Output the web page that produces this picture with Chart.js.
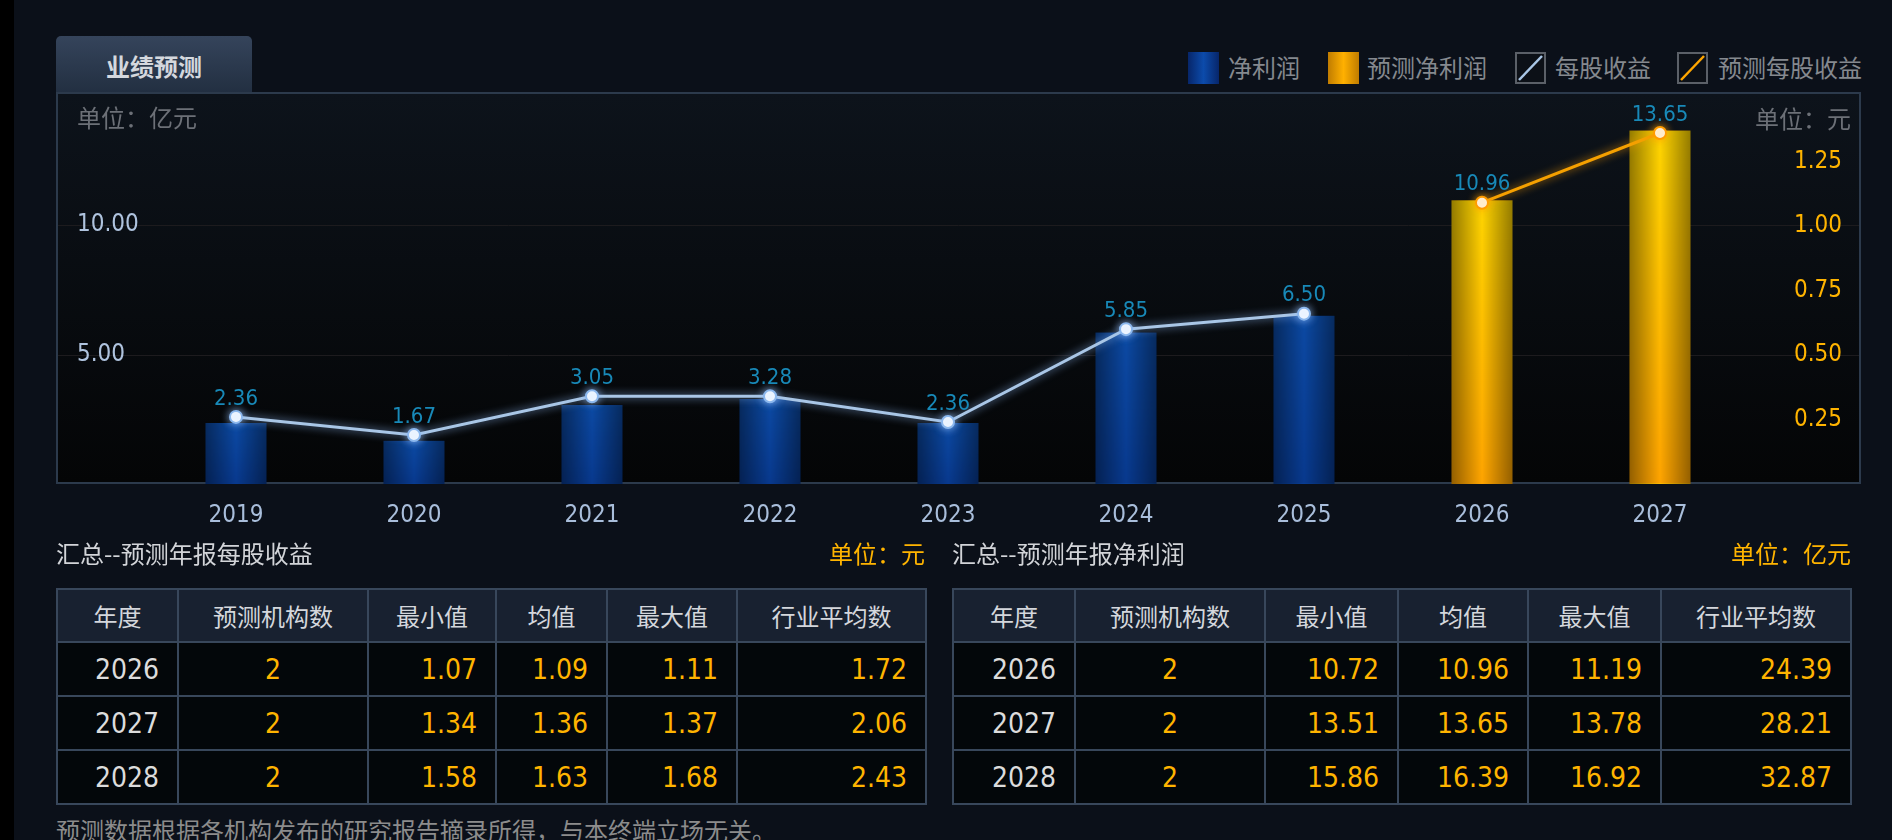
<!DOCTYPE html>
<html>
<head>
<meta charset="utf-8">
<script src="https://cdn.jsdelivr.net/npm/chart.js@4.4.1/dist/chart.umd.min.js"></script>
<style>
  html, body { margin: 0; padding: 0; }
  body {
    width: 1892px; height: 840px; overflow: hidden; position: relative;
    background: #0b1019;
    font-family: "Noto Sans CJK SC", "Noto Sans", sans-serif;
  }
  .abs { position: absolute; white-space: nowrap; }
  #strip { left: 0; top: 0; width: 14px; height: 840px; background: #000; }
  #tab {
    left: 56px; top: 36px; width: 196px; height: 57px;
    border-radius: 5px 5px 0 0;
    background: linear-gradient(#35445b, #222f41);
    color: #d4d8de; font-size: 24px; font-weight: bold;
    line-height: 60px; text-align: center;
  }
  #panel {
    left: 56px; top: 92px; width: 1801px; height: 388px;
    border: 2px solid #2c3a4c;
    background: linear-gradient(#0d131b, #040506);
  }
  #chartBox { left: 0; top: 73px; width: 1892px; height: 470px; }
  .unit { font-size: 24px; line-height: 30px; color: #6c7077; }
  .legend-text { font-size: 24px; line-height: 30px; color: #85898f; top: 52px; }
  .legend-box { top: 52px; width: 31px; height: 32px; }
  .title { font-size: 24px; line-height: 30px; color: #d2d4d8; top: 538px; }
  .title-unit { font-size: 24px; line-height: 30px; color: #ffb400; top: 538px; }
  table.grid {
    position: absolute; top: 588px; border-collapse: collapse; table-layout: fixed;
    border: 2px solid #38475b;
  }
  table.grid td, table.grid th { border: 2px solid #38475b; padding: 0; }
  table.grid th {
    height: 51px; background: #182130; color: #d4d7dc;
    font-size: 24px; font-weight: normal; text-align: center;
  }
  table.grid td {
    height: 52px; background: #03070a; color: #ffb400;
    font-family: "DejaVu Sans Condensed", "Liberation Sans", sans-serif;
    font-size: 28px; text-align: right; padding-right: 18px;
  }
  table.grid td.year { color: #dcdcdc; }
  table.grid td.count { text-align: center; padding-right: 0; }
  #footer { left: 56px; top: 815px; font-size: 24px; line-height: 30px; color: #8c8c8c; }
</style>
</head>
<body>
<div id="strip" class="abs"></div>
<div id="tab" class="abs">业绩预测</div>
<div id="panel" class="abs"></div>

<div class="abs legend-box" style="left:1188px;background:linear-gradient(to right,#07266a,#0c4bab 50%,#07266a);"></div>
<div class="abs legend-text" style="left:1228px;">净利润</div>
<div class="abs legend-box" style="left:1328px;background:linear-gradient(to right,#c07c00,#ffb000 50%,#c07c00);"></div>
<div class="abs legend-text" style="left:1367px;">预测净利润</div>
<svg class="abs legend-box" style="left:1515px;" width="31" height="32"><rect x="1" y="1" width="29" height="30" fill="#0c1017" stroke="#5b6068" stroke-width="2"/><line x1="4" y1="28" x2="27" y2="4" stroke="#a9c6e6" stroke-width="2.5"/></svg>
<div class="abs legend-text" style="left:1555px;">每股收益</div>
<svg class="abs legend-box" style="left:1677px;" width="31" height="32"><rect x="1" y="1" width="29" height="30" fill="#0c1017" stroke="#5b6068" stroke-width="2"/><line x1="4" y1="28" x2="27" y2="4" stroke="#ffa600" stroke-width="2.5"/></svg>
<div class="abs legend-text" style="left:1718px;">预测每股收益</div>

<div id="chartBox" class="abs"><canvas id="forecastChart" width="1892" height="470"></canvas></div>
<div class="abs unit" style="left:77px;top:102px;">单位：亿元</div>
<div class="abs unit" style="right:41px;top:103px;">单位：元</div>

<div class="abs title" style="left:56px;">汇总--预测年报每股收益</div>
<div class="abs title-unit" style="right:967px;">单位：元</div>
<div class="abs title" style="left:952px;">汇总--预测年报净利润</div>
<div class="abs title-unit" style="right:41px;">单位：亿元</div>

<table id="epsTable" class="grid" style="left:56px;width:869px;">
  <colgroup><col style="width:121px"><col style="width:190px"><col style="width:128px"><col style="width:111px"><col style="width:130px"><col style="width:189px"></colgroup>
</table>
<table id="profitTable" class="grid" style="left:952px;width:898px;">
  <colgroup><col style="width:122px"><col style="width:190px"><col style="width:133px"><col style="width:130px"><col style="width:133px"><col style="width:190px"></colgroup>
</table>

<div id="footer" class="abs">预测数据根据各机构发布的研究报告摘录所得，与本终端立场无关。</div>

<script>
// 图表数据
const years = ['2019', '2020', '2021', '2022', '2023', '2024', '2025', '2026', '2027'];
const netProfit = [2.36, 1.67, 3.05, 3.28, 2.36, 5.85, 6.50, null, null];
const forecastProfit = [null, null, null, null, null, null, null, 10.96, 13.65];
const eps = [0.26, 0.19, 0.34, 0.34, 0.24, 0.60, 0.66, null, null];
const forecastEps = [null, null, null, null, null, null, null, 1.09, 1.36];
const profitTicks = [5, 10];
const epsTicks = [0.25, 0.5, 0.75, 1.0, 1.25];

// 表格数据
const tableHeader = ['年度', '预测机构数', '最小值', '均值', '最大值', '行业平均数'];
const tableYears = ['2026', '2027', '2028'];
const orgCount = [2, 2, 2];
const epsMin = ['1.07', '1.34', '1.58'];
const epsAvg = ['1.09', '1.36', '1.63'];
const epsMax = ['1.11', '1.37', '1.68'];
const epsIndustry = ['1.72', '2.06', '2.43'];
const profitMin = ['10.72', '13.51', '15.86'];
const profitAvg = ['10.96', '13.65', '16.39'];
const profitMax = ['11.19', '13.78', '16.92'];
const profitIndustry = ['24.39', '28.21', '32.87'];

const BAR_RATIO = 0.343;
const numFont = '"DejaVu Sans Condensed", "Liberation Sans", sans-serif';

function fillTable(id, cols) {
    const table = document.getElementById(id);
    const head = document.createElement('tr');
    tableHeader.forEach(h => {
        const th = document.createElement('th');
        th.textContent = h;
        head.appendChild(th);
    });
    table.appendChild(head);
    tableYears.forEach((y, i) => {
        const tr = document.createElement('tr');
        [y, orgCount[i]].concat(cols.map(c => c[i])).forEach((v, j) => {
            const td = document.createElement('td');
            td.textContent = v;
            if (j === 0) td.className = 'year';
            if (j === 1) td.className = 'count';
            tr.appendChild(td);
        });
        table.appendChild(tr);
    });
}
fillTable('epsTable', [epsMin, epsAvg, epsMax, epsIndustry]);
fillTable('profitTable', [profitMin, profitAvg, profitMax, profitIndustry]);

// 柱子填充：竖直渐变 + 两侧暗边
function barFill(topColor, bottomColor) {
    return function (context) {
        const chart = context.chart;
        const area = chart.chartArea;
        const xs = chart.scales.x;
        const ys = chart.scales.y;
        const value = context.raw;
        if (!area || !xs || !ys || value == null || context.dataIndex == null) return bottomColor;
        const w = Math.max(1, Math.round(xs.width / years.length * BAR_RATIO));
        const left = xs.getPixelForValue(context.dataIndex) - w / 2;
        const top = ys.getPixelForValue(value);
        const h = Math.max(1, Math.round(area.bottom - top));
        const off = document.createElement('canvas');
        off.width = w;
        off.height = h;
        const g = off.getContext('2d');
        const vg = g.createLinearGradient(0, 0, 0, h);
        vg.addColorStop(0, topColor);
        vg.addColorStop(1, bottomColor);
        g.fillStyle = vg;
        g.fillRect(0, 0, w, h);
        const hg = g.createLinearGradient(0, 0, w, 0);
        hg.addColorStop(0, 'rgba(0,0,0,0.42)');
        hg.addColorStop(0.5, 'rgba(0,0,0,0)');
        hg.addColorStop(1, 'rgba(0,0,0,0.42)');
        g.fillStyle = hg;
        g.fillRect(0, 0, w, h);
        const pattern = chart.ctx.createPattern(off, 'repeat');
        pattern.setTransform(new DOMMatrix([1, 0, 0, 1, left, top]));
        return pattern;
    };
}

// 横向网格线（贯穿整个面板）
const gridPlugin = {
    id: 'panelGrid',
    beforeDraw(chart) {
        const ctx = chart.ctx;
        ctx.save();
        ctx.strokeStyle = '#1d1b1e';
        ctx.lineWidth = 1;
        profitTicks.forEach(v => {
            const y = Math.round(chart.scales.y.getPixelForValue(v)) + 0.5;
            ctx.beginPath();
            ctx.moveTo(58, y);
            ctx.lineTo(1859, y);
            ctx.stroke();
        });
        ctx.restore();
    }
};

// 折线发光
const glowPlugin = {
    id: 'lineGlow',
    beforeDatasetDraw(chart, args) {
        const ds = chart.data.datasets[args.index];
        chart.ctx.save();
        if (ds.type === 'line') {
            chart.ctx.shadowColor = ds.glow;
            chart.ctx.shadowBlur = 8;
        }
    },
    afterDatasetDraw(chart) {
        chart.ctx.restore();
    }
};

// 数值标签：净利润数值标在每股收益点上方
const valueLabelPlugin = {
    id: 'valueLabels',
    afterDatasetsDraw(chart) {
        const ctx = chart.ctx;
        const epsMeta = chart.getDatasetMeta(2);
        const fcMeta = chart.getDatasetMeta(3);
        ctx.save();
        ctx.font = '22px ' + numFont;
        ctx.fillStyle = '#1889b8';
        ctx.textAlign = 'center';
        ctx.textBaseline = 'middle';
        years.forEach((y, i) => {
            const value = netProfit[i] != null ? netProfit[i] : forecastProfit[i];
            const pt = eps[i] != null ? epsMeta.data[i] : fcMeta.data[i];
            if (value == null || !pt) return;
            ctx.fillText(value.toFixed(2), pt.x, pt.y - 18);
        });
        ctx.restore();
    }
};

const ctx = document.getElementById('forecastChart').getContext('2d');
new Chart(ctx, {
    data: {
        labels: years,
        datasets: [
            {
                type: 'bar', label: '净利润', data: netProfit, yAxisID: 'y', order: 2,
                grouped: false, categoryPercentage: 1, barPercentage: BAR_RATIO,
                backgroundColor: barFill('#0c4aa4', '#08398e'),
            },
            {
                type: 'bar', label: '预测净利润', data: forecastProfit, yAxisID: 'y', order: 2,
                grouped: false, categoryPercentage: 1, barPercentage: BAR_RATIO,
                backgroundColor: barFill('#ffd600', '#ffa400'),
            },
            {
                type: 'line', label: '每股收益', data: eps, yAxisID: 'y1', order: 1,
                borderColor: '#a9c6e6', borderWidth: 3, glow: 'rgba(150,195,255,0.8)',
                pointRadius: 6, pointBackgroundColor: '#ffffff',
                pointBorderColor: '#8cb8ee', pointBorderWidth: 2, clip: false,
            },
            {
                type: 'line', label: '预测每股收益', data: forecastEps, yAxisID: 'y1', order: 1,
                borderColor: '#f5a000', borderWidth: 3, glow: 'rgba(255,160,0,0.8)',
                pointRadius: 6, pointBackgroundColor: '#ffffff',
                pointBorderColor: '#ff9c00', pointBorderWidth: 2, clip: false,
            },
        ],
    },
    options: {
        responsive: false,
        animation: false,
        events: [],
        layout: { padding: { left: 77, right: 50, top: 20, bottom: 0 } },
        plugins: {
            legend: { display: false },
            tooltip: { enabled: false },
        },
        scales: {
            x: {
                grid: { display: false, drawTicks: false },
                border: { display: false },
                ticks: { color: '#a9bedb', font: { size: 24, family: numFont }, padding: 17 },
                afterFit(scale) { scale.height = 59; },
            },
            y: {
                position: 'left', min: 0, max: 15.1,
                grid: { display: false, drawTicks: false },
                border: { display: false },
                afterBuildTicks(scale) { scale.ticks = profitTicks.map(v => ({ value: v })); },
                ticks: {
                    crossAlign: 'far', color: '#afc3de',
                    font: { size: 24, family: numFont },
                    callback: v => Number(v).toFixed(2),
                },
                afterFit(scale) { scale.width = 70; },
            },
            y1: {
                position: 'right', min: 0, max: 1.515,
                grid: { display: false, drawTicks: false },
                border: { display: false },
                afterBuildTicks(scale) { scale.ticks = epsTicks.map(v => ({ value: v })); },
                ticks: {
                    crossAlign: 'far', color: '#ffb400',
                    font: { size: 24, family: numFont },
                    callback: v => Number(v).toFixed(2),
                },
                afterFit(scale) { scale.width = 93; },
            },
        },
    },
    plugins: [gridPlugin, glowPlugin, valueLabelPlugin],
});
</script>
</body>
</html>
